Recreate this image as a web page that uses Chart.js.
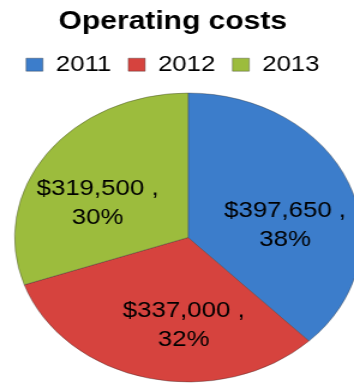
<!DOCTYPE html>
<html>
<head>
<meta charset="utf-8">
<script src="https://cdn.jsdelivr.net/npm/chart.js@4.4.1/dist/chart.umd.min.js"></script>
<style>
  html, body { margin: 0; padding: 0; background: #fff; overflow: hidden; }
  /* the chart is drawn narrow and stretched sideways, so the pie comes out oval */
  #wrap { width: 296px; height: 383px; transform: scaleX(1.2); transform-origin: 0 0; }
</style>
</head>
<body>
<div id="wrap"><canvas id="myChart" width="296" height="383"></canvas></div>
<script>
let years = ['2011', '2012', '2013'];
let costs = [397650, 337000, 319500];

const sliceColors = ['#3c7dcb', '#d6433e', '#9cbc3d'];

// moves the plot area after layout so the pie sits right of the title
const shiftArea = {
  id: 'shiftArea',
  afterLayout(chart, args, opts) {
    const a = chart.chartArea;
    a.left += opts.x;
    a.right += opts.x;
    a.top += opts.y;
    a.bottom += opts.y;
  }
};

// "$value ," and percent written inside each slice
const sliceLabels = {
  id: 'sliceLabels',
  afterDatasetsDraw(chart, args, opts) {
    const ctx = chart.ctx;
    const meta = chart.getDatasetMeta(0);
    const total = costs.reduce((s, v) => s + v, 0);
    ctx.save();
    ctx.font = opts.font;
    ctx.fillStyle = '#000';
    ctx.textAlign = 'center';
    ctx.textBaseline = 'middle';
    meta.data.forEach((arc, i) => {
      const p = arc.getProps(['x', 'y', 'startAngle', 'endAngle', 'outerRadius'], true);
      const ang = (p.startAngle + p.endAngle) / 2 + opts.turn[i] * Math.PI / 180;
      const r = p.outerRadius * opts.reach[i];
      const x = p.x + Math.cos(ang) * r;
      const y = p.y + Math.sin(ang) * r;
      const pct = Math.round(costs[i] / total * 100) + '%';
      ctx.fillText('$' + costs[i].toLocaleString('en-US') + ' ,', x, y - opts.gap / 2);
      ctx.fillText(pct, x, y + opts.gap / 2);
    });
    ctx.restore();
  }
};

Chart.defaults.font.family = "'Liberation Sans', Arial, sans-serif";
Chart.defaults.color = '#000';

new Chart(document.getElementById('myChart'), {
  type: 'pie',
  data: {
    labels: years,
    datasets: [{
      data: costs,
      backgroundColor: sliceColors,
      borderColor: 'rgba(40, 40, 40, 0.35)',
      borderWidth: 1,
      radius: 144.5
    }]
  },
  options: {
    responsive: false,
    animation: false,
    layout: { padding: { right: 8 } },
    plugins: {
      title: {
        display: true,
        text: 'Operating costs',
        font: { size: 25, weight: 'bold' },
        padding: { top: 7, bottom: 2.75 }
      },
      legend: {
        labels: {
          font: { size: 21.5 },
          boxWidth: 14,
          boxHeight: 13,
          padding: 14.2
        }
      },
      tooltip: { enabled: false },
      shiftArea: { x: 12.7, y: 3.3 },
      sliceLabels: {
        font: "21.5px 'Liberation Sans', Arial, sans-serif",
        gap: 29,
        turn: [14, -11, -11.5],
        reach: [0.565, 0.613, 0.571]
      }
    }
  },
  plugins: [shiftArea, sliceLabels]
});
</script>
</body>
</html>
